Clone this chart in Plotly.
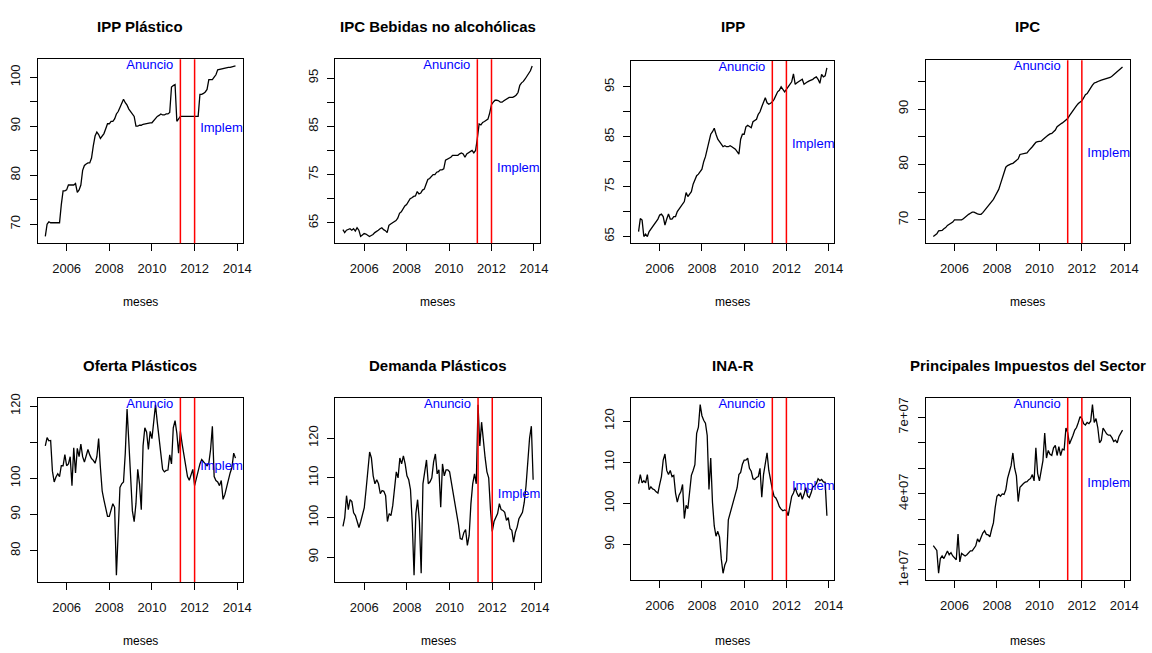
import numpy as np
import plotly.graph_objects as go

# Monthly series, January 2005 - December 2013
meses = 2005 + np.arange(108) / 12

ipp_plastico = [
    67.5, 70.0, 70.5, 70.3, 70.3, 70.3, 70.3, 70.3, 70.3, 74.0, 76.8, 76.8,
    77.0, 78.0, 78.0, 78.0, 78.0, 78.3, 76.5, 77.0, 78.0, 81.0, 82.0, 82.3,
    82.5, 82.5, 83.5, 86.0, 88.0, 88.8, 88.3, 87.5, 88.0, 88.5, 89.5, 90.5,
    90.5, 91.0, 91.0, 91.5, 92.5, 93.0, 93.8, 94.5, 95.5, 94.8, 94.3, 93.5,
    93.0, 92.5, 92.0, 90.0, 90.0, 90.2, 90.2, 90.4, 90.5, 90.5, 90.6, 90.7,
    90.7, 91.2, 91.5, 92.0, 92.2, 92.5, 92.3, 92.3, 92.5, 92.5, 92.8, 98.0,
    98.3, 98.5, 91.0, 91.5, 92.0, 92.0, 92.0, 92.0, 92.0, 92.0, 92.0, 92.0,
    92.0, 92.0, 92.0, 96.5, 96.5, 96.7, 97.0, 97.5, 99.5, 99.5, 99.5, 100.0,
    100.5, 101.5, 101.6, 101.7, 101.7, 101.8, 101.9, 102.0, 102.0, 102.1, 102.2, 102.3,
]

ipc_bebidas = [
    63.6, 63.0, 63.5, 63.7, 63.8, 63.5, 63.8, 63.3, 64.0, 63.5, 62.2, 62.5,
    62.8, 62.7, 62.5, 62.2, 62.4, 62.6, 63.0, 63.2, 63.5, 63.8, 64.0, 63.6,
    63.4, 63.0, 64.5, 64.8, 65.0, 65.2, 65.5, 66.0, 67.0, 67.3, 68.0, 68.5,
    68.8, 69.5, 70.0, 70.2, 70.5, 70.6, 71.5, 71.0, 71.2, 71.8, 72.0, 73.0,
    74.0, 74.2, 74.5, 75.0, 75.0, 75.5, 75.6, 76.0, 76.0, 76.2, 78.0, 78.2,
    78.5, 78.6, 79.0, 79.0, 78.9, 79.0, 79.3, 79.5, 79.3, 78.6, 79.3, 79.5,
    79.8, 80.0, 79.5, 80.0, 82.5, 85.5, 85.3, 85.8, 86.0, 86.3, 86.5, 87.8,
    89.5, 90.0, 90.4, 90.4, 90.3, 90.0, 90.0, 90.3, 90.6, 90.8, 91.0, 91.0,
    91.0, 91.2, 91.5, 92.0, 93.5, 94.0, 94.3, 94.8, 95.3, 96.0, 96.5, 97.5,
]

ipp = [
    66.0, 68.6, 68.3, 65.0, 65.5, 65.0, 66.0, 66.5, 67.0, 67.5, 68.0, 68.5,
    69.3, 69.5, 69.0, 67.3, 68.5, 69.5, 68.5, 68.5, 69.0, 69.0, 70.0, 70.5,
    71.0, 71.5, 72.0, 73.8, 73.0, 73.5, 74.0, 75.5, 76.5, 77.2, 77.5, 78.0,
    78.5, 80.0, 81.0, 82.5, 84.0, 85.5, 86.0, 86.7, 85.5, 84.5, 84.0, 83.5,
    83.0, 83.2, 83.0, 83.0, 83.2, 83.0, 82.8, 82.5, 82.0, 81.5, 84.5, 85.5,
    85.5, 87.0, 87.3, 87.0, 86.8, 88.0, 88.2, 88.5, 89.5, 90.0, 91.0, 92.0,
    92.8, 91.8, 91.5, 91.7, 92.0, 92.5, 93.3, 94.0, 94.3, 95.0, 94.5, 94.0,
    94.5, 95.0, 95.5, 96.0, 97.6, 95.5, 95.8, 96.0, 96.3, 96.5, 95.5, 95.8,
    96.0, 96.2, 96.3, 96.5, 96.8, 97.0, 96.5, 95.7, 97.5, 97.0, 97.2, 98.8,
]

ipc = [
    67.0, 67.2, 67.5, 68.0, 68.1, 68.1, 68.4, 68.6, 69.0, 69.2, 69.5, 69.6,
    70.0, 70.0, 70.0, 70.0, 70.0, 70.2, 70.5, 70.7, 71.0, 71.2, 71.4, 71.4,
    71.2, 71.1, 71.0, 71.0, 71.3, 71.7, 72.0, 72.4, 72.7, 73.2, 73.7, 74.3,
    74.8, 75.5, 76.5, 77.5, 78.5, 79.5, 79.8, 80.0, 80.1, 80.2, 80.5, 80.7,
    81.0, 81.8, 81.9, 82.0, 82.0, 82.1, 82.5, 82.8, 83.2, 83.6, 84.0, 84.1,
    84.1, 84.2, 84.5, 84.8, 85.0, 85.3, 85.5, 85.6, 85.9, 86.2, 86.8, 87.1,
    87.3, 87.5, 87.8, 88.0, 88.3, 88.8, 89.3, 89.8, 90.2, 90.6, 91.0, 91.2,
    91.5, 92.0, 92.6, 92.8, 93.2, 93.8, 94.3, 94.7, 94.8, 95.0, 95.1, 95.2,
    95.3, 95.4, 95.5, 95.5, 95.7, 95.9, 96.2, 96.5, 96.8, 97.0, 97.3, 97.6,
]

oferta_plasticos = [
    109.0, 111.3, 110.4, 110.5, 102.0, 99.0, 100.4, 101.3, 100.5, 103.5, 103.5, 106.6,
    103.5, 104.0, 106.0, 98.0, 108.5, 101.5, 108.3, 106.0, 109.5, 106.0, 104.5, 106.5,
    108.0, 106.5, 105.5, 105.0, 104.2, 106.0, 111.0, 103.0, 96.5, 94.0, 91.5, 89.5,
    89.5, 91.0, 93.0, 92.0, 73.2, 85.0, 97.5, 98.5, 99.0, 107.0, 119.2, 110.0,
    98.5, 91.0, 88.0, 93.0, 102.5, 98.5, 91.3, 109.0, 114.0, 112.8, 108.0, 113.0,
    111.0, 115.0, 120.4, 115.5, 110.5, 105.5, 102.5, 101.8, 102.2, 102.3, 106.5, 104.0,
    114.0, 116.0, 112.5, 107.0, 113.0, 109.5, 106.5, 103.0, 100.5, 99.5, 101.0, 102.5,
    98.0, 100.0, 102.5, 104.0, 105.2, 104.5, 104.0, 103.5, 104.2, 108.0, 114.4, 100.5,
    99.4, 99.0, 98.0, 99.4, 94.2, 95.5, 97.5, 100.0, 101.5, 103.0, 107.0, 105.6,
]

demanda_plasticos = [
    97.8, 100.0, 105.5, 102.0, 104.5, 104.0, 101.2, 100.5, 99.0, 97.5, 99.0, 101.2,
    102.5, 107.0, 113.0, 116.5, 115.0, 110.5, 108.5, 109.5, 108.5, 106.0, 106.8, 106.6,
    105.5, 99.0, 101.0, 100.5, 103.0, 108.0, 111.5, 110.0, 115.0, 113.5, 115.5, 113.5,
    110.5, 109.5, 107.0, 98.5, 85.5, 101.0, 104.5, 99.0, 86.0, 108.5, 112.0, 114.5,
    108.5, 109.0, 110.0, 114.0, 116.0, 111.0, 112.0, 102.6, 113.5, 110.5, 112.0, 112.0,
    111.5, 109.0, 106.5, 103.8, 100.5, 98.2, 94.7, 94.5, 96.2, 97.0, 93.0, 95.5,
    103.5, 108.5, 111.0, 108.5, 128.4, 118.0, 124.0, 119.0, 115.0, 111.5, 110.0, 102.0,
    96.5, 99.0, 100.0, 101.0, 103.5, 102.0, 101.8, 101.3, 99.3, 100.0, 97.2, 96.8,
    93.8, 96.3, 97.6, 99.7, 100.5, 101.3, 103.8, 108.0, 114.0, 120.0, 123.0, 109.5,
]

ina_r = [
    104.8, 107.0, 105.0, 105.5, 105.0, 107.0, 103.3, 104.0, 103.5, 103.3, 102.8, 102.5,
    104.6, 106.5, 110.5, 112.0, 108.0, 107.0, 108.0, 106.5, 106.8, 102.5, 100.3, 102.0,
    102.8, 104.6, 96.3, 99.5, 98.7, 103.4, 106.8, 108.0, 109.4, 117.0, 118.5, 124.0,
    121.3, 120.2, 119.5, 116.5, 103.4, 111.0, 100.2, 94.5, 92.0, 93.2, 91.8, 86.5,
    83.0, 85.0, 86.0, 96.0, 97.5, 99.0, 100.2, 101.8, 103.8, 107.0, 107.5, 109.5,
    110.5, 110.5, 111.0, 108.5, 107.8, 106.0, 105.8, 106.3, 106.5, 108.5, 101.5, 107.0,
    110.0, 112.3, 108.0, 105.5, 103.4, 101.7, 101.3, 100.4, 99.2, 98.6, 98.2, 98.4,
    98.2, 97.0, 99.6, 101.7, 102.5, 103.8, 102.5, 101.6, 102.6, 101.0, 102.2, 103.8,
    101.8, 101.4, 102.5, 104.0, 104.2, 104.8, 106.0, 105.5, 105.8, 105.2, 105.1, 97.0,
]

impuestos_sector = [
    1.96e7, 1.87e7, 1.77e7, 0.87e7, 1.45e7, 1.55e7, 1.45e7, 1.60e7, 1.75e7, 1.60e7, 1.68e7, 1.55e7,
    1.45e7, 1.40e7, 2.41e7, 1.32e7, 1.65e7, 1.60e7, 1.55e7, 1.60e7, 1.70e7, 1.75e7, 1.75e7, 1.85e7,
    1.95e7, 2.22e7, 2.10e7, 2.28e7, 2.45e7, 2.54e7, 2.40e7, 2.38e7, 2.30e7, 2.60e7, 2.85e7, 3.45e7,
    3.90e7, 3.97e7, 3.90e7, 3.99e7, 3.97e7, 4.15e7, 4.60e7, 4.85e7, 5.10e7, 5.60e7, 5.00e7, 4.70e7,
    3.69e7, 4.25e7, 4.35e7, 4.40e7, 4.45e7, 4.47e7, 4.55e7, 4.60e7, 4.75e7, 4.50e7, 5.80e7, 4.80e7,
    4.50e7, 5.00e7, 5.30e7, 6.38e7, 5.40e7, 5.70e7, 5.55e7, 5.50e7, 5.80e7, 5.90e7, 5.50e7, 5.85e7,
    5.50e7, 5.75e7, 5.72e7, 6.58e7, 6.40e7, 5.95e7, 6.10e7, 6.30e7, 6.50e7, 6.60e7, 6.80e7, 7.03e7,
    6.95e7, 6.75e7, 6.70e7, 6.80e7, 6.75e7, 6.85e7, 7.50e7, 6.80e7, 6.95e7, 6.60e7, 6.00e7, 6.10e7,
    6.58e7, 6.45e7, 6.35e7, 6.30e7, 6.30e7, 6.20e7, 6.05e7, 6.10e7, 6.00e7, 6.25e7, 6.40e7, 6.50e7,
]

# Policy dates: announcement (May 2011) and implementation (January 2012)
fecha_anuncio = 2011 + 4 / 12
fecha_implementacion = 2012.0
texto_anuncio = "Anuncio"
texto_implementacion = "Implem"

anio_ticks = [2006, 2008, 2010, 2012, 2014]
anio_labels = ["2006", "2008", "2010", "2012", "2014"]

paneles = [
    ("IPP Plástico", ipp_plastico,
     [70, 75, 80, 85, 90, 95, 100], ["70", "", "80", "", "90", "", "100"]),
    ("IPC Bebidas no alcohólicas", ipc_bebidas,
     [65, 70, 75, 80, 85, 90, 95], ["65", "", "75", "", "85", "", "95"]),
    ("IPP", ipp,
     [65, 70, 75, 80, 85, 90, 95], ["65", "", "75", "", "85", "", "95"]),
    ("IPC", ipc,
     [70, 75, 80, 85, 90, 95], ["70", "", "80", "", "90", ""]),
    ("Oferta Plásticos", oferta_plasticos,
     [80, 90, 100, 110, 120], ["80", "90", "100", "", "120"]),
    ("Demanda Plásticos", demanda_plasticos,
     [90, 100, 110, 120], ["90", "100", "110", "120"]),
    ("INA-R", ina_r,
     [90, 100, 110, 120], ["90", "100", "110", "120"]),
    ("Principales Impuestos del Sector", impuestos_sector,
     [1e7, 2e7, 3e7, 4e7, 5e7, 6e7, 7e7], ["1e+07", "", "", "4e+07", "", "", "7e+07"]),
]

# Plot-region boxes in pixels: left, right, top, bottom
W, H = 1152, 653
cajas = [
    (38, 245, 56, 243), (338, 544, 56, 243), (636, 841, 58, 243), (933, 1139, 57, 243),
    (38, 245, 400, 587), (338, 545, 400, 587), (636, 841, 400, 585), (933, 1139, 400, 585),
]

FONT = "Liberation Sans, Arial, sans-serif"

span = meses[-1] - meses[0]
x_range = [meses[0] - 0.04 * span, meses[-1] + 0.04 * span]

fig = go.Figure()
layout = {}
annotations = []

for k, ((titulo, serie, yvals, ytext), (l, r, t, b)) in enumerate(zip(paneles, cajas)):
    n = k + 1
    sx = "" if n == 1 else str(n)
    xa, ya = "x" + sx, "y" + sx
    y = np.array(serie, dtype=float)
    lo, hi = y.min(), y.max()
    pad = 0.04 * (hi - lo)

    fig.add_trace(go.Scatter(
        x=meses, y=y, mode="lines", line=dict(color="black", width=1.3),
        xaxis=xa, yaxis=ya, showlegend=False, hoverinfo="skip"))

    for fecha in (fecha_anuncio, fecha_implementacion):
        fig.add_shape(type="line", x0=fecha, x1=fecha, y0=0, y1=1,
                      xref=xa, yref=ya + " domain",
                      line=dict(color="red", width=1.5))

    # labels for the two event lines
    fig.add_trace(go.Scatter(
        x=[fecha_anuncio - 0.33], y=[hi], mode="text", text=[texto_anuncio],
        textposition="middle left", cliponaxis=False,
        textfont=dict(color="blue", size=13, family=FONT),
        xaxis=xa, yaxis=ya, showlegend=False, hoverinfo="skip"))
    fig.add_trace(go.Scatter(
        x=[fecha_implementacion + 0.26], y=[y.mean()], mode="text",
        text=[texto_implementacion], textposition="middle right", cliponaxis=False,
        textfont=dict(color="blue", size=13, family=FONT),
        xaxis=xa, yaxis=ya, showlegend=False, hoverinfo="skip"))

    common = dict(showline=True, mirror=True, linecolor="black", linewidth=1.3,
                  ticks="outside", ticklen=7, tickwidth=1, tickcolor="black",
                  showgrid=False, zeroline=False,
                  tickfont=dict(size=13, family=FONT, color="#111111"))
    layout["xaxis" + sx] = dict(
        domain=[l / W, r / W], range=x_range, anchor=ya,
        tickmode="array", tickvals=anio_ticks, ticktext=anio_labels,
        ticklabelstandoff=6, **common)
    layout["yaxis" + sx] = dict(
        domain=[1 - b / H, 1 - t / H], range=[lo - pad, hi + pad], anchor=xa,
        tickmode="array", tickvals=yvals, ticktext=ytext, tickangle=-90,
        ticklabelstandoff=4, **common)

    cx = (l + r) / 2 / W
    ty = 23 if k < 4 else 367
    my = 303 if k < 4 else 647
    annotations.append(dict(
        text="<b>%s</b>" % titulo, x=cx, y=1 - ty / H, xref="paper", yref="paper",
        xanchor="center", yanchor="middle", showarrow=False,
        font=dict(size=15, family=FONT, color="black")))
    annotations.append(dict(
        text="meses", x=cx, y=1 - my / H, xref="paper", yref="paper",
        xanchor="center", yanchor="middle", showarrow=False,
        font=dict(size=12, family=FONT, color="black")))

fig.update_layout(
    width=W, height=H, margin=dict(l=0, r=0, t=0, b=0),
    paper_bgcolor="white", plot_bgcolor="white",
    annotations=annotations, **layout)

fig.write_html("out.html")
